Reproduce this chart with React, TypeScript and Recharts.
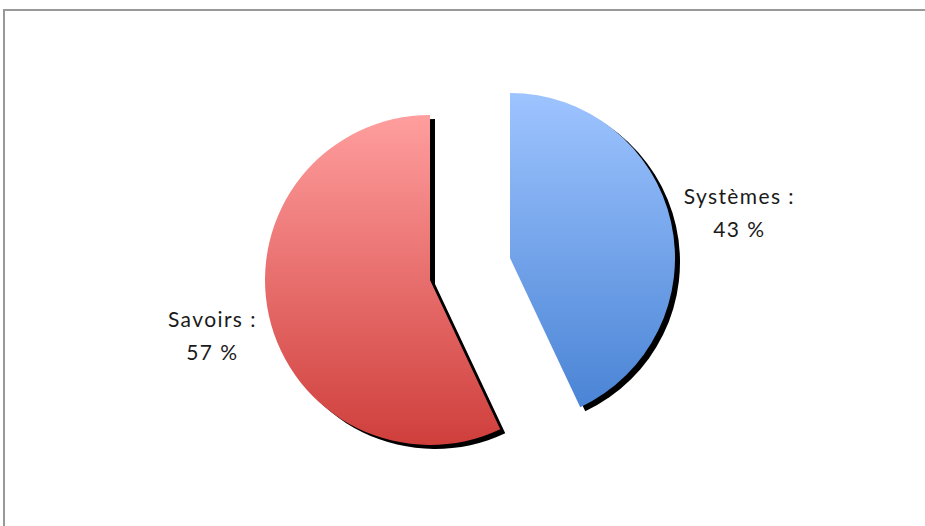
import React from "react";
import { PieChart, Pie, Cell } from "recharts";

const categories = ["Systèmes", "Savoirs"];
const values = [43, 57];
const labels = ["43 %", "57 %"];

const data = categories.map((name, i) => ({ name, value: values[i], label: labels[i] }));

const RAD = Math.PI / 180;
const FONT = "Lato, 'Open Sans', sans-serif";

const makeLabel = (which: number, extra: number, shiftY: number) => (props: any) => {
  const { cx, cy, midAngle, outerRadius, index } = props;
  if (index !== which) return null;
  const r = outerRadius + extra;
  const x = cx + r * Math.cos(-midAngle * RAD);
  const y = cy + r * Math.sin(-midAngle * RAD) + shiftY;
  return (
    <text x={x} y={y} textAnchor="middle" fill="#1a1a1a" fontFamily={FONT} fontSize={21} letterSpacing={1.4}>
      <tspan x={x} dy={-8}>{`${data[index].name} :`}</tspan>
      <tspan x={x} dy={33}>{data[index].label}</tspan>
    </text>
  );
};

const BLUE_C = { x: 510, y: 258 };
const RED_C = { x: 430, y: 280 };
const SH = { dx: 5, dy: 4 };
const R = 165;
const M = { top: 0, right: 0, bottom: 0, left: 0 };

export default function App() {
  return (
    <div style={{ position: "absolute", left: 0, top: 0, width: 925, height: 526, background: "#fff" }}>
      <div
        style={{
          position: "absolute",
          left: 3,
          top: 9,
          width: 922,
          height: 517,
          boxShadow: "inset 2px 2px 0 #999",
        }}
      />
      <div style={{ position: "absolute", left: 0, top: 0 }}>
        <PieChart width={925} height={526} margin={M}>
          <defs>
            <linearGradient id="gBlue" x1="0" y1="0" x2="0" y2="1">
              <stop offset="0%" stopColor="#9ec4ff" />
              <stop offset="100%" stopColor="#4a84d5" />
            </linearGradient>
            <linearGradient id="gRed" x1="0" y1="0" x2="0" y2="1">
              <stop offset="0%" stopColor="#ff9e9e" />
              <stop offset="100%" stopColor="#cf3f3c" />
            </linearGradient>
          </defs>
          <Pie
            data={data}
            dataKey="value"
            cx={BLUE_C.x + SH.dx}
            cy={BLUE_C.y + SH.dy}
            outerRadius={R}
            startAngle={90}
            endAngle={-270}
            stroke="none"
            isAnimationActive={false}
            labelLine={false}
          >
            <Cell fill="#000" />
            <Cell fill="none" />
          </Pie>
          <Pie
            data={data}
            dataKey="value"
            cx={RED_C.x + SH.dx}
            cy={RED_C.y + SH.dy}
            outerRadius={R}
            startAngle={90}
            endAngle={-270}
            stroke="none"
            isAnimationActive={false}
            labelLine={false}
          >
            <Cell fill="none" />
            <Cell fill="#000" />
          </Pie>
          <Pie
            data={data}
            dataKey="value"
            cx={BLUE_C.x}
            cy={BLUE_C.y}
            outerRadius={R}
            startAngle={90}
            endAngle={-270}
            stroke="none"
            isAnimationActive={false}
            labelLine={false}
            label={makeLabel(0, 70, 5)}
          >
            <Cell fill="url(#gBlue)" />
            <Cell fill="none" />
          </Pie>
          <Pie
            data={data}
            dataKey="value"
            cx={RED_C.x}
            cy={RED_C.y}
            outerRadius={R}
            startAngle={90}
            endAngle={-270}
            stroke="none"
            isAnimationActive={false}
            labelLine={false}
            label={makeLabel(1, 58, 6)}
          >
            <Cell fill="none" />
            <Cell fill="url(#gRed)" />
          </Pie>
        </PieChart>
      </div>
    </div>
  );
}
